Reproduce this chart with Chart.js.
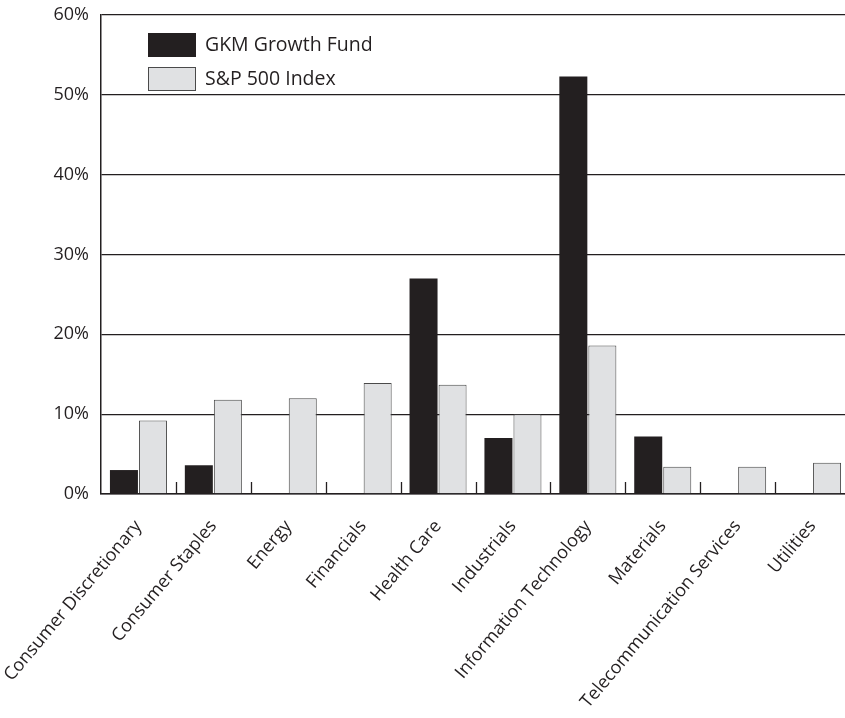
<!DOCTYPE html>
<html>
<head>
<meta charset="utf-8">
<script src="https://cdn.jsdelivr.net/npm/chart.js@4.4.1/dist/chart.umd.min.js"></script>
<style>
  html, body { margin: 0; padding: 0; background: #fff; overflow: hidden; }
  #wrap { width: 851px; height: 718px; }
</style>
</head>
<body>
<div id="wrap"><canvas id="chart"></canvas></div>
<script>
// data
var categories = ["Consumer Discretionary", "Consumer Staples", "Energy", "Financials", "Health Care",
                  "Industrials", "Information Technology", "Materials", "Telecommunication Services", "Utilities"];
var gkmValues = [3.0, 3.6, 0, 0, 27.0, 7.0, 52.3, 7.2, 0, 0];
var spValues = [9.2, 11.8, 12.0, 13.9, 13.7, 10.0, 18.6, 3.4, 3.4, 3.9];
var yTickLabels = ["0%", "10%", "20%", "30%", "40%", "50%", "60%"];

var ink = "#231f20";
var font = "'Open Sans', sans-serif";

// legend drawn inside the plot area
var insideLegend = {
    id: "insideLegend",
    afterDraw: function(chart) {
        var ctx = chart.ctx;
        var area = chart.chartArea;
        var x = area.left + 47, y = area.top + 18;
        ctx.save();
        ctx.font = "19.5px " + font;
        ctx.textBaseline = "middle";
        chart.data.datasets.forEach(function(ds, i) {
            var top = y + i * 34;
            ctx.fillStyle = ds.backgroundColor;
            ctx.fillRect(x, top, 48, 24);
            if (ds.borderWidth) {
                ctx.strokeStyle = ds.borderColor;
                ctx.lineWidth = 1;
                ctx.strokeRect(x + 0.5, top + 0.5, 47, 23);
            }
            ctx.fillStyle = ink;
            ctx.fillText(ds.label, x + 57, top + 12);
        });
        ctx.restore();
    }
};

// short category separators pointing up from the axis
var innerTicks = {
    id: "innerTicks",
    afterDatasetsDraw: function(chart) {
        var ctx = chart.ctx;
        var xs = chart.scales.x;
        var bottom = chart.chartArea.bottom;
        var half = (xs.getPixelForValue(1) - xs.getPixelForValue(0)) / 2;
        ctx.save();
        ctx.strokeStyle = ink;
        ctx.lineWidth = 1.3;
        ctx.beginPath();
        for (var i = 1; i < categories.length; i++) {
            var px = Math.round(xs.getPixelForValue(i) - half) + 0.5;
            ctx.moveTo(px, bottom);
            ctx.lineTo(px, bottom - 12);
        }
        ctx.stroke();
        ctx.restore();
    }
};

var chart = new Chart(document.getElementById("chart"), {
    type: "bar",
    data: {
        labels: categories,
        datasets: [{
            label: "GKM Growth Fund",
            data: gkmValues,
            backgroundColor: ink,
            borderWidth: 0
        }, {
            label: "S&P 500 Index",
            data: spValues,
            backgroundColor: "#e0e1e3",
            borderColor: "#4a4a4a",
            borderWidth: 1
        }]
    },
    options: {
        responsive: true,
        maintainAspectRatio: false,
        animation: false,
        events: [],
        categoryPercentage: 0.775,
        barPercentage: 0.965,
        layout: { padding: { top: 15, right: 1, bottom: 0, left: 0 } },
        plugins: { legend: { display: false }, tooltip: { enabled: false } },
        scales: {
            x: {
                grid: { display: false, drawTicks: false },
                border: { display: true, color: ink, width: 1.5 },
                ticks: {
                    autoSkip: false,
                    maxRotation: 50,
                    minRotation: 50,
                    padding: 22,
                    color: ink,
                    font: { family: font, size: 18 }
                },
                afterFit: function(scale) {
                    scale.height = 224;
                    scale.paddingLeft = 0;
                    scale.paddingRight = 0;
                }
            },
            y: {
                min: 0,
                max: 60,
                ticks: {
                    stepSize: 10,
                    padding: 12,
                    color: ink,
                    font: { family: font, size: 18 },
                    callback: function(v, i) { return yTickLabels[i]; }
                },
                grid: { color: ink, lineWidth: 1.3, drawTicks: false },
                border: { display: true, color: ink, width: 1.5 },
                afterFit: function(scale) {
                    scale.width = 101;
                    scale.paddingTop = 0;
                    scale.paddingBottom = 0;
                }
            }
        }
    },
    plugins: [insideLegend, innerTicks]
});
</script>
</body>
</html>
